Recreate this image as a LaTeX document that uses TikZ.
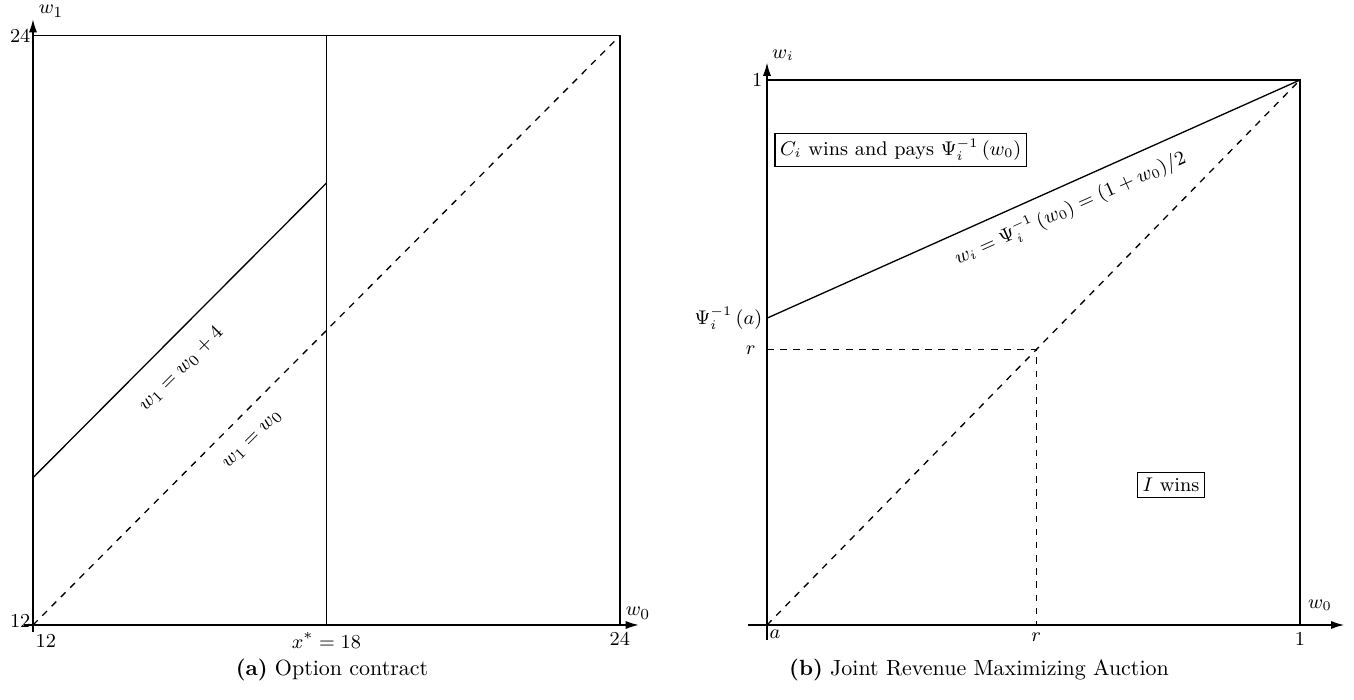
\documentclass[tikz,border=0pt]{standalone}
\usepackage{amsmath}
\usetikzlibrary{arrows.meta}

\begin{document}
\begin{tikzpicture}[
    axis/.style={line width=1pt, -{Latex[length=2.2mm,width=1.3mm]}},
    frame/.style={line width=0.6pt},
    lefttext/.style={font=\fontsize{9.5}{11}\selectfont},
    righttext/.style={font=\fontsize{9}{11}\selectfont},
    boxlabel/.style={draw, line width=0.5pt, inner sep=2.4pt}
  ]
    \useasboundingbox (0,0) rectangle (21.664,11.2);

    % (a) Option contract, w0 and w1 from 12 to 24
    \begin{scope}[shift={(0.528,1.2)}, x=0.7825cm, y=0.7856cm, every node/.append style={lefttext}]
        \draw[frame] (0,12) -- (12,12) -- (12,0);
        \draw[frame] (6,0) -- (6,12);
        \draw[frame, dashed] (0,0) -- (12,12);
        \draw[frame] (0,3) -- (6,9);
        \draw[axis] (-0.18,0) -- (12.4,0);
        \draw[axis] (0,-0.15) -- (0,12.35);
        \node[inner sep=0pt] (w1lbl) at (0.37,12.5) {$w_1$};
        \node[inner sep=0pt] (w0lbl) at (12.37,0.24) {$w_0$};
        \node[left, inner sep=1pt] (ytop) at (0,12) {$24$};
        \node[anchor=south east, inner sep=1pt] (ybot) at (0,-0.1) {$12$};
        \node[anchor=north west, inner sep=1pt] (xbot) at (0,-0.15) {$12$};
        \node[below] (xstar) at (6,0) {$x^{*}=18$};
        \node[below] (xtop) at (12,0) {$24$};
        \node[rotate=45] (optline) at (3.03,5.21) {$w_1=w_0+4$};
        \node[rotate=45] (diagline) at (4.50,3.77) {$w_1=w_0$};
    \end{scope}
    \node (capa) at (5.312,0.48) {\textbf{(a)} Option contract};

    % (b) Joint revenue maximizing auction, w0 from a to 1
    \begin{scope}[shift={(12.272,1.2)}, x=8.528cm, y=8.72cm, every node/.append style={righttext}]
        \draw[frame] (0,1) -- (1,1) -- (1,0);
        \draw[frame, dashed] (0,0) -- (1,1);
        \draw[frame, dashed] (0,0.505) -- (0.505,0.505) -- (0.505,0);
        \draw[frame] (0,0.563) -- (1,1);
        \node[rotate=24.06] (bestline) at (0.5685,0.765)
            {$w_i=\Psi_i^{-1}\left(w_0\right)=(1+w_0)/2$};
        \draw[axis] (-0.036,0) -- (1.084,0);
        \draw[axis] (0,-0.028) -- (0,1.033);
        \node[inner sep=0pt] (wilbl) at (0.03,1.046) {$w_i$};
        \node[inner sep=0pt] (w0lbl2) at (1.0375,0.036) {$w_0$};
        \node[left, inner sep=2pt] (yone) at (0,1) {$1$};
        \node[left, inner sep=2pt] (ypsi) at (0,0.563) {$\Psi_i^{-1}\left(a\right)$};
        \node[left, inner sep=5pt] (yr) at (0,0.505) {$r$};
        \node[anchor=north west, inner sep=1pt] (xa) at (0,-0.005) {$a$};
        \node[below] (xr) at (0.505,0) {$r$};
        \node[below] (xone) at (1,0) {$1$};
        \node[boxlabel] (cwins) at (0.251,0.872)
            {$C_i$ wins and pays $\Psi_i^{-1}\left(w_0\right)$};
        \node[boxlabel] (iwins) at (0.758,0.257) {$I$ wins};
    \end{scope}
    \node (capb) at (15.664,0.48) {\textbf{(b)} Joint Revenue Maximizing Auction};
\end{tikzpicture}
\end{document}
